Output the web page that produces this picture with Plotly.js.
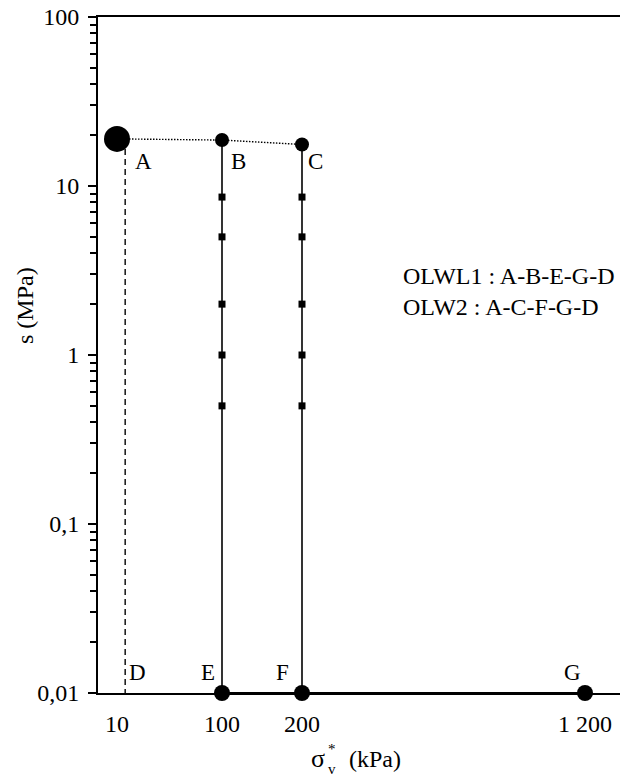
<!DOCTYPE html>
<html>
<head>
<meta charset="utf-8">
<script src="https://cdn.plot.ly/plotly-3.0.1.min.js"></script>
<style>html,body{margin:0;padding:0;background:#fff;}#chart{width:620px;height:775px;}</style>
</head>
<body>
<div id="chart"></div>
<script>
// ---- data (stress in kPa, suction in MPa) ----
const pointNames = ['A', 'B', 'C', 'D', 'E', 'F', 'G'];
const pointStress = [10, 100, 200, 17, 100, 200, 1200];
const pointSuction = [19.0, 18.7, 17.6, 0.01, 0.01, 0.01, 0.01];
const stepSuction = [8.6, 5, 2, 1, 0.5];
const xTickValues = [10, 100, 200, 1200];
const xTickLabels = ['10', '100', '200', '1 200'];
const yTickValues = [0.01, 0.1, 1, 10, 100];
const yTickLabels = ['0,01', '0,1', '1', '10', '100'];
const pathLabels = ['OLWL1 : A-B-E-G-D', 'OLW2 : A-C-F-G-D'];

// ---- broken x scale: piecewise-linear between tick anchors ----
const xAnchorPos = [19, 124, 204, 487];   // axis units (plot width 522)
function sx(v) {
  for (let i = 0; i < xTickValues.length - 1; i++) {
    const a = xTickValues[i], b = xTickValues[i + 1];
    if (v <= b || i === xTickValues.length - 2) {
      return xAnchorPos[i] + (v - a) / (b - a) * (xAnchorPos[i + 1] - xAnchorPos[i]);
    }
  }
}
const P = {};
pointNames.forEach((n, i) => P[n] = {x: sx(pointStress[i]), y: pointSuction[i]});

const black = '#000';
const serif = 'Liberation Serif, Times New Roman, serif';
const traces = [];

// A-B-C dotted
traces.push({x: [P.A.x, P.B.x, P.C.x], y: [P.A.y, P.B.y, P.C.y], mode: 'lines',
  line: {color: black, width: 1.4, dash: '1.5px,1.5px'}, hoverinfo: 'skip'});
// A down to D dashed
traces.push({x: [P.D.x, P.D.x], y: [P.A.y, P.D.y], mode: 'lines',
  line: {color: black, width: 1.4, dash: '6px,4px'}, hoverinfo: 'skip'});
// B-E and C-F solid verticals
traces.push({x: [P.B.x, P.E.x], y: [P.B.y, P.E.y], mode: 'lines', line: {color: black, width: 1.6}, hoverinfo: 'skip'});
traces.push({x: [P.C.x, P.F.x], y: [P.C.y, P.F.y], mode: 'lines', line: {color: black, width: 1.6}, hoverinfo: 'skip'});
// E-F-G along the bottom
traces.push({x: [P.E.x, P.F.x, P.G.x], y: [P.E.y, P.F.y, P.G.y], mode: 'lines', line: {color: black, width: 2}, hoverinfo: 'skip', cliponaxis: false});
// square steps on B-E and C-F
traces.push({x: stepSuction.map(() => P.B.x), y: stepSuction, mode: 'markers',
  marker: {symbol: 'square', size: 7, color: black}, hoverinfo: 'skip'});
traces.push({x: stepSuction.map(() => P.C.x), y: stepSuction, mode: 'markers',
  marker: {symbol: 'square', size: 7, color: black}, hoverinfo: 'skip'});
// big A point
traces.push({x: [P.A.x], y: [P.A.y], mode: 'markers', marker: {size: 26, color: black}, hoverinfo: 'skip', cliponaxis: false});
// B, C points
traces.push({x: [P.B.x, P.C.x], y: [P.B.y, P.C.y], mode: 'markers', marker: {size: 14, color: black}, hoverinfo: 'skip'});
// E, F, G points
traces.push({x: [P.E.x, P.F.x, P.G.x], y: [P.E.y, P.F.y, P.G.y], mode: 'markers',
  marker: {size: 16, color: black}, hoverinfo: 'skip', cliponaxis: false});

// point labels
const labelOffsets = {A: [26, -23], B: [16, -21], C: [13, -17], D: [12, 21], E: [-14, 21], F: [-20, 21], G: [-13, 21]};
const annotations = pointNames.map(n => ({
  x: P[n].x, y: Math.log10(P[n].y), xref: 'x', yref: 'y', text: n, showarrow: false,
  xanchor: 'center', yanchor: 'middle',
  xshift: labelOffsets[n][0], yshift: labelOffsets[n][1],
  font: {family: serif, size: 23, color: black}
}));

const W = 620, H = 775, ml = 98, mt = 17, mb = 82;
function px(x) { return (x - ml) / (W - ml); }
function py(y) { return 1 - (y - mt) / (H - mt - mb); }

function note(x, y, text, size, extra) {
  annotations.push(Object.assign({x: px(x), y: py(y), xref: 'paper', yref: 'paper', text: text,
    showarrow: false, xanchor: 'center', yanchor: 'middle',
    font: {family: serif, size: size, color: black}}, extra || {}));
}
// path legend (two lines in one text block)
note(401, 291, pathLabels.join('<br>'), 24, {xanchor: 'left', align: 'left'});
// axis titles
note(25, 306, 's (MPa)', 24, {textangle: -90});
note(318, 758, 'σ', 26);
note(332, 759, '*<br>v', 15);
note(375, 759, '(kPa)', 24);

const layout = {
  width: W, height: H,
  margin: {l: ml, r: 0, t: mt, b: mb, pad: 0},
  paper_bgcolor: '#fff', plot_bgcolor: '#fff',
  showlegend: false,
  xaxis: {
    range: [0, W - ml], tickvals: xTickValues.map(sx), ticktext: xTickLabels,
    showgrid: false, zeroline: false, showline: true, linecolor: black, linewidth: 2,
    mirror: true, ticks: '', ticklabelstandoff: 8,
    tickfont: {family: serif, size: 24, color: black}, fixedrange: true
  },
  yaxis: {
    type: 'log', range: [-2, 2], tickvals: yTickValues, ticktext: yTickLabels,
    showgrid: false, zeroline: false, showline: true, linecolor: black, linewidth: 2,
    ticks: 'outside', ticklen: 8, tickwidth: 2, tickcolor: black, ticklabelstandoff: 4,
    minor: {ticks: 'outside', ticklen: 6, tickwidth: 2, tickcolor: black, dtick: 'D1', showgrid: false},
    tickfont: {family: serif, size: 24, color: black}, fixedrange: true
  },
  annotations: annotations
};

Plotly.newPlot('chart', traces, layout, {displayModeBar: false, staticPlot: true});
</script>
</body>
</html>
